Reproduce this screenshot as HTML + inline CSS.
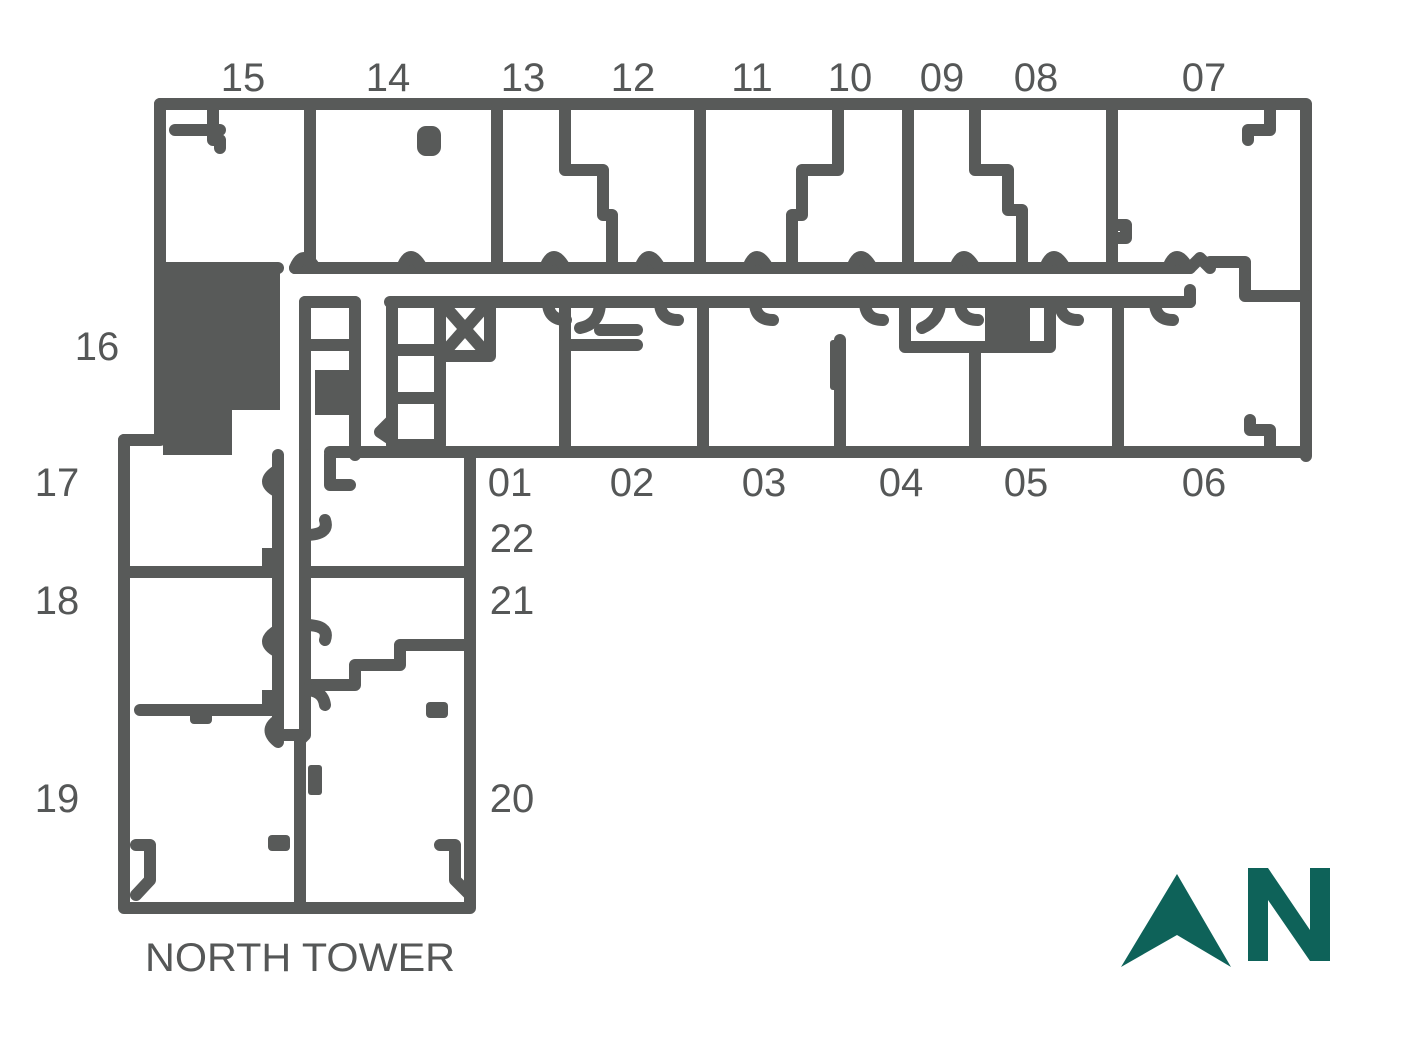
<!DOCTYPE html>
<html><head><meta charset="utf-8"><style>
html,body{margin:0;padding:0;background:#fff;}
svg{display:block}
text{font-family:"Liberation Sans",sans-serif;font-size:40px;fill:#555757;}
</style></head><body>
<svg width="1416" height="1044" viewBox="0 0 1416 1044" xmlns="http://www.w3.org/2000/svg">
<g fill="none" stroke="#585a59" stroke-width="12" stroke-linecap="round" stroke-linejoin="round">
<polyline points="160,104 1306,104 1306,456"/>
<polyline points="330,452 1306,452"/>
<polyline points="160,104 160,440 124,440"/>
<polyline points="124,440 124,908 470,908 470,452"/>
<polyline points="160,268 278,268"/>
<polyline points="295,268 1190,268"/>
<polyline points="305,302 355,302"/>
<polyline points="390,302 1190,302"/>
<polyline points="1190,268 1200,258 1210,268 1210,262 1245,262 1245,296 1306,296"/>
<polyline points="1190,302 1190,290"/>
<line x1="310" y1="104" x2="310" y2="268"/>
<line x1="497" y1="104" x2="497" y2="268"/>
<polyline points="565,104 565,170 603,170 603,215 612,215 612,268"/>
<line x1="700" y1="104" x2="700" y2="268"/>
<polyline points="838,104 838,170 802,170 802,215 792,215 792,268"/>
<line x1="908" y1="104" x2="908" y2="268"/>
<polyline points="975,104 975,170 1008,170 1008,210 1022,210 1022,268"/>
<line x1="1112" y1="104" x2="1112" y2="268"/>
<polyline points="1112,225 1126,225 1126,238 1112,238"/>
<polyline points="213,104 213,140 220,140 220,148"/>
<polyline points="175,130 220,130"/>
<rect x="423" y="132" width="12" height="18" rx="3" fill="#585a59"/>
<polyline points="1270,104 1270,130 1248,130 1248,140"/>
<polyline points="1250,420 1250,430 1270,430 1270,452"/>
<path d="M295,268 q8,-20 20,0 M402,268 q8,-22 20,0 M545,268 q8,-22 20,0 M640,268 q8,-22 20,0 M748,268 q8,-22 20,0 M852,268 q8,-22 20,0 M955,268 q8,-22 20,0 M1045,268 q8,-22 20,0 M1168,268 q8,-22 20,0"/>
<path d="M548,302 q0,18 18,18 M600,302 q0,22 -20,26 M660,302 q0,18 18,18 M755,302 q0,18 18,18 M865,302 q0,18 18,18 M940,302 q0,18 -18,26 M960,302 q0,18 18,18 M1060,302 q0,18 18,18 M1155,302 q0,18 18,18"/>
<line x1="565" y1="302" x2="565" y2="452"/>
<polyline points="565,345 637,345"/>
<polyline points="600,330 637,330"/>
<line x1="703" y1="302" x2="703" y2="452"/>
<line x1="840" y1="340" x2="840" y2="452"/>
<polyline points="905,302 905,347 1050,347 1050,302"/>
<line x1="975" y1="347" x2="975" y2="452"/>
<line x1="1118" y1="302" x2="1118" y2="452"/>
<polyline points="305,302 305,455"/>
<polyline points="355,302 355,455"/>
<line x1="305" y1="345" x2="355" y2="345"/>
<polyline points="392,302 392,445 440,445 440,302"/>
<line x1="392" y1="350" x2="440" y2="350"/>
<line x1="392" y1="398" x2="440" y2="398"/>
<polyline points="440,302 490,302 490,356 440,356"/>
<line x1="450" y1="312" x2="480" y2="346"/>
<line x1="480" y1="312" x2="450" y2="346"/>
<polyline points="392,420 380,432 392,440"/>
<polyline points="278,455 278,735"/>
<polyline points="305,455 305,735 300,740 300,908"/>
<polyline points="330,455 330,485 350,485"/>
<polyline points="128,572 277,572"/>
<polyline points="305,572 470,572"/>
<polyline points="140,710 277,710"/>
<polyline points="470,645 400,645 400,665 355,665 355,685 310,685"/>
<polyline points="278,735 300,735 300,760"/>
<path d="M278,470 q-20,12 0,22 M305,535 q25,0 20,-15 M278,630 q-20,12 0,22 M305,625 q25,0 20,15 M278,720 q-15,10 0,22 M305,690 q18,0 20,15"/>
<polyline points="136,845 150,845 150,880 136,895"/>
<polyline points="440,845 455,845 455,880 470,895"/>
</g>
<g fill="#585a59">
<path d="M163,268 H280 V410 H232 V455 H163 Z"/>
<rect x="315" y="370" width="38" height="45"/>
<rect x="985" y="302" width="45" height="40"/>
<rect x="262" y="548" width="12" height="20"/>
<rect x="262" y="690" width="12" height="20"/>
<rect x="190" y="708" width="22" height="16" rx="4"/>
<rect x="426" y="702" width="22" height="16" rx="4"/>
<rect x="268" y="835" width="22" height="16" rx="4"/>
<rect x="308" y="765" width="14" height="30" rx="3"/>
<rect x="830" y="340" width="12" height="50" rx="3"/>
</g>
<g fill="#0e6259">
<polygon points="1177,874 1121,967 1177,935 1231,967"/>
<polygon points="1248,868 1268,868 1310,930 1310,868 1330,868 1330,961 1310,961 1268,900 1268,961 1248,961"/>
</g>
<g text-anchor="middle">
<text x="243" y="91">15</text><text x="388" y="91">14</text><text x="523" y="91">13</text>
<text x="633" y="91">12</text><text x="752" y="91">11</text><text x="850" y="91">10</text>
<text x="942" y="91">09</text><text x="1036" y="91">08</text><text x="1204" y="91">07</text>
<text x="510" y="496">01</text><text x="632" y="496">02</text><text x="764" y="496">03</text>
<text x="901" y="496">04</text><text x="1026" y="496">05</text><text x="1204" y="496">06</text>
<text x="97" y="360">16</text><text x="57" y="496">17</text><text x="57" y="614">18</text>
<text x="57" y="812">19</text><text x="512" y="552">22</text><text x="512" y="614">21</text>
<text x="512" y="812">20</text>
</g>
<text x="145" y="971" textLength="310" lengthAdjust="spacingAndGlyphs">NORTH TOWER</text>
</svg>
</body></html>
